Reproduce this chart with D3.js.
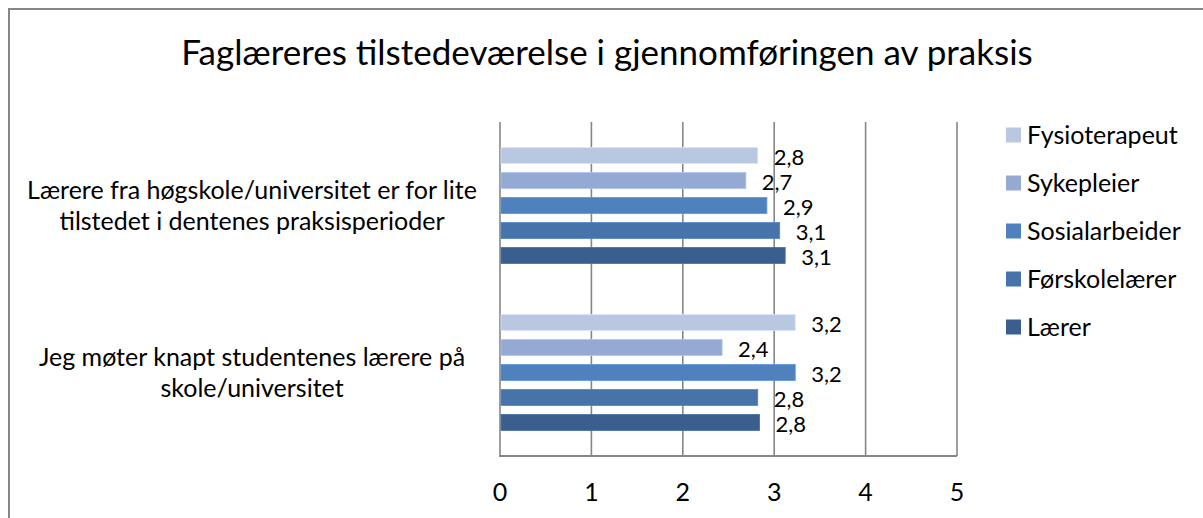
<!DOCTYPE html>
<html>
<head>
<meta charset="utf-8">
<script src="https://cdn.jsdelivr.net/npm/d3@7"></script>
<style>
  body { margin: 0; background: #fff; }
  text { font-family: Lato, "Open Sans", sans-serif; fill: #000; }
</style>
</head>
<body>
<svg id="chart" width="1203" height="518"></svg>
<script>
// chart data
const title = "Faglæreres tilstedeværelse i gjennomføringen av praksis";
const categories = [
  "Lærere fra høgskole/universitet er for lite tilstedet i dentenes praksisperioder",
  "Jeg møter knapt studentenes lærere på skole/universitet"
];
const categoryLines = [
  ["Lærere fra høgskole/universitet er for lite", "tilstedet i dentenes praksisperioder"],
  ["Jeg møter knapt studentenes lærere på", "skole/universitet"]
];
const series = ["Fysioterapeut", "Sykepleier", "Sosialarbeider", "Førskolelærer", "Lærer"];
const fysioterapeut = [2.82, 3.23];
const sykepleier = [2.69, 2.43];
const sosialarbeider = [2.92, 3.23];
const forskolelaerer = [3.06, 2.82];
const laerer = [3.12, 2.84];
const xTicks = [0, 1, 2, 3, 4, 5];
const colors = ["#b9c7e1", "#95aad3", "#4f81bd", "#4674aa", "#3a5f8f"];

const values = [fysioterapeut, sykepleier, sosialarbeider, forskolelaerer, laerer];

const svg = d3.select("#chart");
const fontSize = 25;

// outer frame
svg.append("rect")
  .attr("x", 9).attr("y", 9)
  .attr("width", 1220).attr("height", 540)
  .attr("fill", "none")
  .attr("stroke", "#868686")
  .attr("stroke-width", 2);

svg.append("text")
  .attr("x", 607).attr("y", 65)
  .attr("text-anchor", "middle")
  .attr("font-size", 35)
  .text(title);

const plot = { left: 500, right: 957, top: 122, bottom: 456 };

const xScale = d3.scaleLinear().domain([0, 5]).range([plot.left, plot.right]);
const y0 = d3.scaleBand().domain(categories).range([plot.top, plot.bottom]);
const y1 = d3.scaleBand().domain(series).range([0, y0.bandwidth()])
  .paddingInner(0.36).paddingOuter(1.02);

// gridlines
svg.append("g").selectAll("line")
  .data(xTicks)
  .join("line")
  .attr("x1", d => xScale(d)).attr("x2", d => xScale(d))
  .attr("y1", plot.top).attr("y2", plot.bottom)
  .attr("stroke", "#868686")
  .attr("stroke-width", 1.6);

// bottom axis line
svg.append("line")
  .attr("x1", plot.left - 1).attr("x2", plot.right)
  .attr("y1", plot.bottom).attr("y2", plot.bottom)
  .attr("stroke", "#868686")
  .attr("stroke-width", 2);

// tick labels
svg.append("g").selectAll("text")
  .data(xTicks)
  .join("text")
  .attr("x", d => xScale(d))
  .attr("y", 501)
  .attr("text-anchor", "middle")
  .attr("font-size", fontSize)
  .text(d => d);

// bars
const groups = svg.append("g").selectAll("g")
  .data(categories)
  .join("g")
  .attr("transform", d => `translate(0,${y0(d)})`);

groups.selectAll("rect")
  .data((c, ci) => series.map((s, si) => ({ s, si, v: values[si][ci] })))
  .join("rect")
  .attr("x", xScale(0) + 1)
  .attr("y", d => y1(d.s))
  .attr("width", d => xScale(d.v) - xScale(0) - 1)
  .attr("height", y1.bandwidth())
  .attr("fill", d => colors[d.si])
  .attr("stroke", d => d3.color(colors[d.si]).brighter(0.4))
  .attr("stroke-width", 0.8);

const fmt = v => d3.format(".1f")(v).replace(".", ",");

// value labels, a bit smaller so the stacked ones don't collide
groups.selectAll("text.val")
  .data((c, ci) => series.map((s, si) => ({ s, si, v: values[si][ci] })))
  .join("text")
  .attr("class", "val")
  .attr("x", d => xScale(d.v) + 16)
  .attr("y", d => y1(d.s) + y1.bandwidth() / 2 + 2)
  .attr("dy", "0.35em")
  .attr("font-size", 22)
  .text(d => fmt(d.v));

// category labels
svg.append("g").selectAll("text")
  .data(categories)
  .join("text")
  .attr("x", 252)
  .attr("y", d => y0(d) + y0.bandwidth() / 2)
  .attr("text-anchor", "middle")
  .attr("font-size", fontSize)
  .each(function(d, i) {
    const lines = categoryLines[i];
    d3.select(this).selectAll("tspan")
      .data(lines)
      .join("tspan")
      .attr("x", 252)
      .attr("dy", (l, j) => j === 0 ? `${-(lines.length - 1) * 0.625 + 0.35}em` : "1.25em")
      .text(l => l);
  });

// legend
const legend = svg.append("g").selectAll("g")
  .data(series)
  .join("g")
  .attr("transform", (d, i) => `translate(1006,${135 + i * 48})`);

legend.append("rect")
  .attr("x", 0).attr("y", -7.5)
  .attr("width", 15).attr("height", 15)
  .attr("fill", (d, i) => colors[i]);

legend.append("text")
  .attr("x", 21)
  .attr("dy", "0.35em")
  .attr("font-size", fontSize)
  .text(d => d);
</script>
</body>
</html>
